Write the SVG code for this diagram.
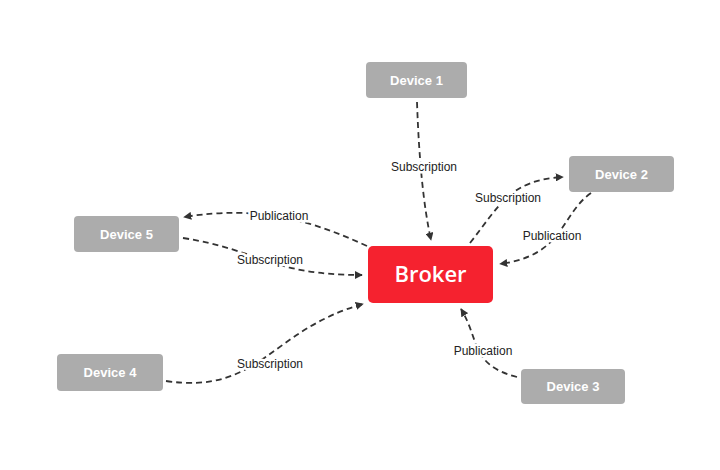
<svg xmlns="http://www.w3.org/2000/svg" width="720" height="470" viewBox="0 0 720 470">
<style>
.dev rect{fill:#acacac}
.dev text{fill:#fff;font-family:"Liberation Sans",Arial,sans-serif;font-weight:bold;font-size:13px;text-anchor:middle}
.con path{fill:none;stroke:#333;stroke-width:1.8;stroke-dasharray:6 4}
.lbl{font-family:"Liberation Sans",Arial,sans-serif;font-size:12px;fill:#222;text-anchor:middle;stroke:#fff;stroke-width:5;paint-order:stroke;stroke-linejoin:round}
</style>
<defs>
<marker id="ah" viewBox="0 0 10 10" refX="9" refY="5" markerWidth="4.5" markerHeight="4.5" orient="auto" markerUnits="strokeWidth">
<path d="M0,0 L10,5 L0,10 z" fill="#333"/>
</marker>
</defs>
<rect width="720" height="470" fill="#fff"/>
<g id="connectors" class="con">
<path d="M417,102 Q420,190 431,240" marker-end="url(#ah)"/>
<path d="M470,243 C500,205 510,180 563,177" marker-end="url(#ah)"/>
<path d="M591,193 C560,215 565,255 500,264" marker-end="url(#ah)"/>
<path d="M367,246 C310,220 260,205 184,217" marker-end="url(#ah)"/>
<path d="M183,238 C260,250 270,275 362,275" marker-end="url(#ah)"/>
<path d="M166,381 C260,395 270,330 363,304" marker-end="url(#ah)"/>
<path d="M517,377 C470,365 480,340 461,309" marker-end="url(#ah)"/>
</g>
<g id="labels">
<text class="lbl" x="424" y="171">Subscription</text>
<text class="lbl" x="508" y="202">Subscription</text>
<text class="lbl" x="552" y="240">Publication</text>
<text class="lbl" x="279" y="220">Publication</text>
<text class="lbl" x="270" y="264">Subscription</text>
<text class="lbl" x="270" y="368">Subscription</text>
<text class="lbl" x="483" y="355">Publication</text>
</g>
<g id="device1" class="dev"><rect x="366" y="62" width="101" height="36" rx="4"/><text x="416.5" y="84.5">Device 1</text></g>
<g id="device2" class="dev"><rect x="569" y="156" width="105" height="36" rx="4"/><text x="621.5" y="178.5">Device 2</text></g>
<g id="device5" class="dev"><rect x="74" y="216" width="105" height="36" rx="4"/><text x="126.5" y="238.5">Device 5</text></g>
<g id="device4" class="dev"><rect x="57" y="354" width="106" height="37" rx="4"/><text x="110" y="377">Device 4</text></g>
<g id="device3" class="dev"><rect x="521" y="369" width="104" height="35" rx="4"/><text x="573" y="391">Device 3</text></g>
<g id="broker"><rect x="368" y="246" width="125" height="57" rx="5" fill="#f5222f"/><text x="430.5" y="282" fill="#fff" font-family="'Open Sans','Noto Sans',sans-serif" font-weight="600" font-size="22" text-anchor="middle">Broker</text></g>
</svg>
